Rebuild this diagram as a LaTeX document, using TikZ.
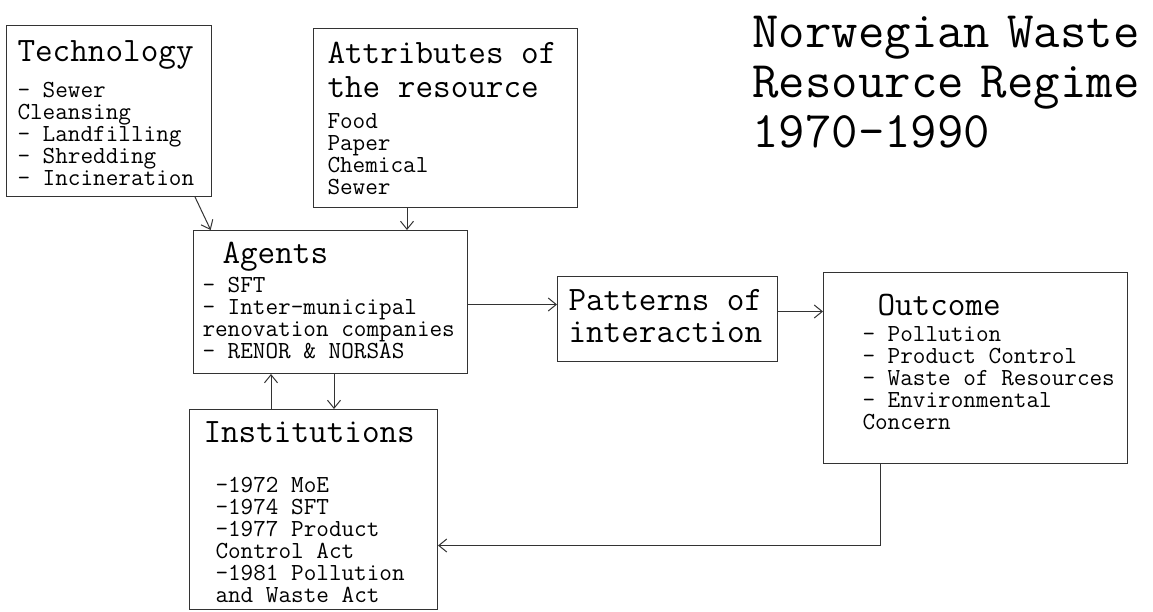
\documentclass[tikz,border=0pt]{standalone}
\usepackage{tikz}
\usetikzlibrary{arrows.meta}

% monospace text, spaces as wide as the letters
\newcommand{\fixspace}{\spaceskip=\fontcharwd\font`\x\relax}
\newcommand{\bodyfont}{\ttfamily\fontsize{24.5}{22}\selectfont\fixspace}
\newcommand{\headfont}{\fontsize{34.2}{34}\selectfont\fixspace}

\begin{document}
\begin{tikzpicture}[x=1pt,y=-1pt,>={Straight Barb[length=8pt,width=13pt]},
                    line width=1pt]
  \tikzstyle{box}=[draw=black!80,anchor=north west,inner sep=0pt,align=left,
                   font=\bodyfont,execute at begin node={\lineskiplimit=-100pt\fixspace}]
  \tikzstyle{link}=[->,draw=black!80]
\useasboundingbox[fill=white] (0,0) rectangle (1153,611);

\node [box,text width=205pt,text height=36pt,text depth=135pt] (tech) at (6,25)
  {\leftskip=11pt {\headfont Technology}\\[14pt]
   - Sewer\\ Cleansing\\ - Landfilling\\ - Shredding\\ - Incineration\par};
\node [box,text width=264pt,text height=35pt,text depth=144pt] (attr) at (313,28)
  {\leftskip=14pt {\headfont Attributes of}\\[12pt]{\headfont the resource}\\[9pt]
   Food\\ Paper\\ Chemical\\ Sewer\par};
\node [box,text width=274pt,text height=33pt,text depth=110pt] (agents) at (193,230)
  {\leftskip=9pt {\headfont\hspace*{20pt}Agents}\\[7pt]
   - SFT\\ - Inter-municipal\\ renovation companies\\ - RENOR \& NORSAS\par};
\node [box,text width=220pt,text height=34pt,text depth=51pt] (patterns) at (557,276)
  {\leftskip=11pt {\headfont Patterns of}\\[10pt]{\headfont interaction}\par};
\node [box,text width=304pt,text height=43pt,text depth=148pt] (outcome) at (823,272)
  {\leftskip=39pt {\headfont\hspace*{15pt}Outcome}\\[4pt]
   - Pollution\\ - Product Control\\ - Waste of Resources\\ - Environmental\\ Concern\par};
\node [box,text width=248pt,text height=33pt,text depth=167pt] (inst) at (189,409)
  {\leftskip=26pt {\headfont\hspace*{-12pt}Institutions}\\[28pt]
   -1972 MoE\\ -1974 SFT\\ -1977 Product\\ Control Act\\ -1981 Pollution\\ and Waste Act\par};

\node [anchor=base west,inner sep=0pt,align=left,text width=405pt,
       font=\ttfamily\fontsize{51.3}{50}\selectfont\fixspace] (title) at (752,47)
  {Norwegian Waste\\ Resource Regime\\ 1970-1990};

\draw [link] (tech.-45) -- (agents.149);
\draw [link] ([xshift=94pt]attr.south west) -- ([xshift=94pt]attr.south west |- agents.north);
\draw [link] ([yshift=-2.5pt]agents.east) -- ([yshift=-2.5pt]agents.east -| patterns.west);
\draw [link] ([yshift=7.5pt]patterns.east) -- ([yshift=7.5pt]patterns.east -| outcome.west);
\draw [link] ([xshift=82pt]inst.north west) -- ([xshift=82pt]inst.north west |- agents.south);
\draw [link] ([xshift=141pt]agents.south west) -- ([xshift=141pt]agents.south west |- inst.north);
\draw [link] ([xshift=57pt]outcome.south west) |- ([yshift=-36pt]inst.east);

	\end{tikzpicture}
\end{document}
